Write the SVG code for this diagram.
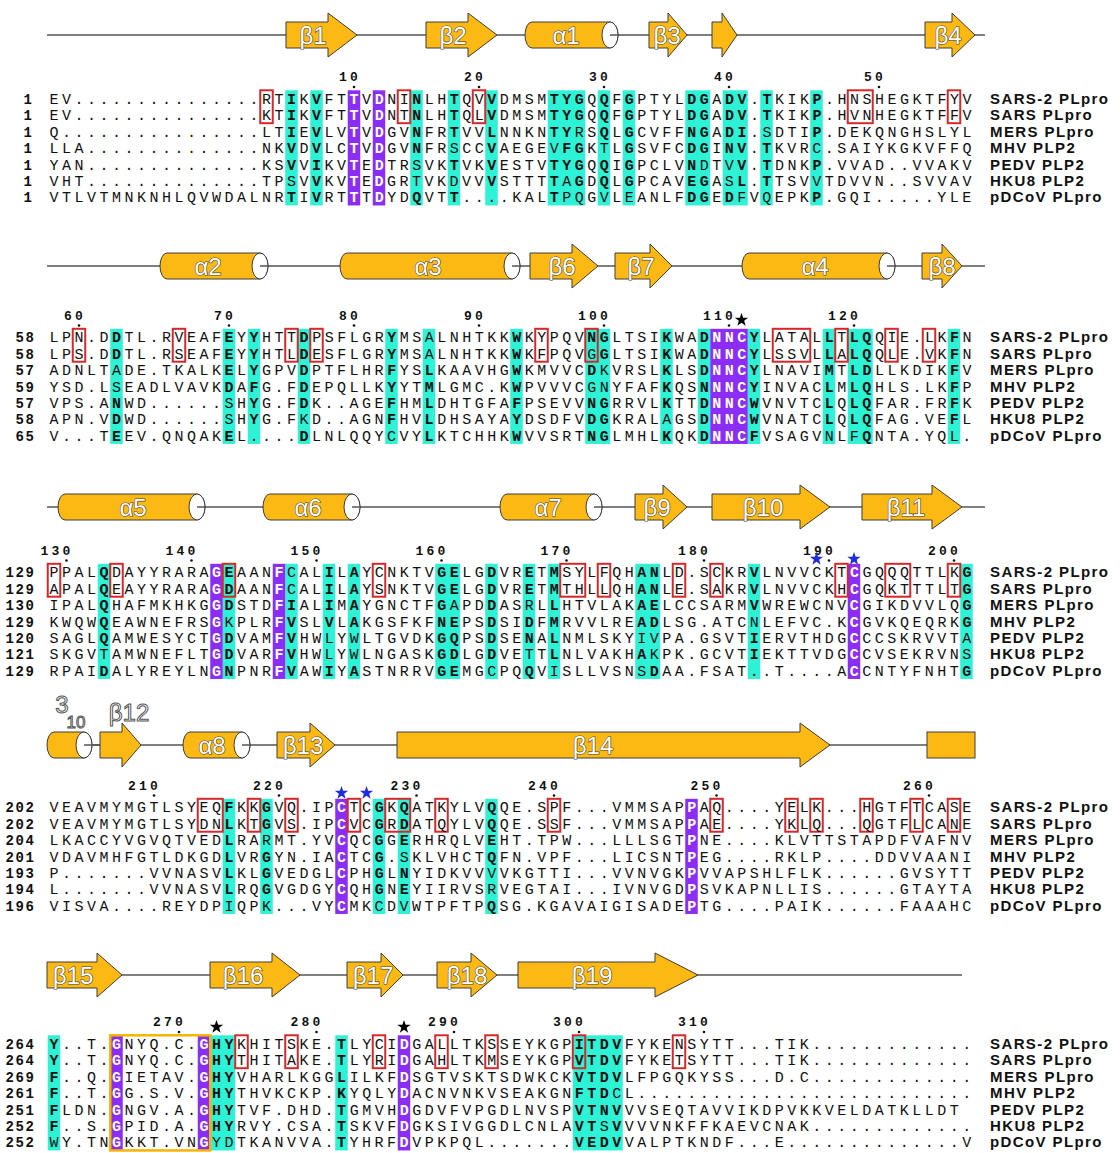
<svg xmlns="http://www.w3.org/2000/svg" width="1120" height="1153" viewBox="0 0 1120 1153">
<style>
.s{font-family:"Liberation Mono",monospace;font-size:15px;letter-spacing:3.5px;fill:#111}
.b{font-weight:700}
.w{font-weight:700;fill:#fff}
.n{font-family:"Liberation Mono",monospace;font-size:14px;font-weight:700;letter-spacing:1.6px;fill:#111}
.nm{font-family:"Liberation Sans",Arial,sans-serif;font-size:15px;font-weight:700;letter-spacing:1.4px;fill:#111}
.pl{font-family:"Liberation Mono",monospace;font-size:13px;font-weight:700;letter-spacing:3.2px;fill:#111}
.cy{fill:#2EF2D6}
.pu{fill:#8C2DF5}
.rb{fill:none;stroke:#D5282B;stroke-width:2}
.ob{fill:none;stroke:#F7B500;stroke-width:2.5}
.ss{fill:#FDB913;stroke:#3C3C3C;stroke-width:1}
.el{fill:#fff;stroke:#3C3C3C;stroke-width:1}
.ln{stroke:#555;stroke-width:1.5;fill:none}
.sl{font-family:"Liberation Sans",Arial,sans-serif;font-size:24px;fill:#fff;stroke:#444;stroke-width:1.2;paint-order:stroke;text-anchor:middle}
.so{font-family:"Liberation Sans",Arial,sans-serif;font-size:24px;fill:#fff;stroke:#555;stroke-width:1;text-anchor:middle}
.dt{fill:#111}
</style>
<defs>
<path id="star" d="M0-7L1.65-2.27L6.66-2.16L2.66 0.87L4.11 5.66L0 2.8L-4.11 5.66L-2.66 0.87L-6.66-2.16L-1.65-2.27Z"/>
</defs>
<rect width="1120" height="1153" fill="#fff"/>

<!-- ================= BLOCK 1 ================= -->
<g id="block1">
<g id="b1-ss">
<line class="ln" x1="47" y1="35" x2="985" y2="35"/>
<path class="ss" d="M286 22H328V13L357 35L328 57V48H286Z"/>
<path class="ss" d="M426 22H468V13L497 35L468 57V48H426Z"/>
<path class="ss" d="M532 22H610A8 13 0 0 1 610 48H532A7 13 0 0 1 532 22Z"/>
<ellipse class="el" cx="610" cy="35" rx="8" ry="13"/>
<line class="ln" x1="610" y1="35" x2="618" y2="35"/>
<path class="ss" d="M649 22H668V13L687 35L668 57V48H649Z"/>
<path class="ss" d="M712 22H722V13L737 35L722 57V48H712Z"/>
<path class="ss" d="M925 22H952V13L975 35L952 57V48H925Z"/>
<text class="sl" x="313" y="43.5">β1</text>
<text class="sl" x="453" y="43.5">β2</text>
<text class="sl" x="566" y="43.5">α1</text>
<text class="sl" x="667" y="43.5">β3</text>
<text class="sl" x="948" y="43.5">β4</text>
</g>
<g id="b1-num">
<text class="pl" x="339.1" y="81">10</text>
<text class="pl" x="464.1" y="81">20</text>
<text class="pl" x="589.1" y="81">30</text>
<text class="pl" x="714.1" y="81">40</text>
<text class="pl" x="864.1" y="81">50</text>
<circle class="dt" cx="354" cy="87" r="1.3"/><circle class="dt" cx="479" cy="87" r="1.3"/><circle class="dt" cx="604" cy="87" r="1.3"/><circle class="dt" cx="729" cy="87" r="1.3"/><circle class="dt" cx="879" cy="87" r="1.3"/>
</g>
<g id="b1-aln" transform="translate(0,98.5)">
<g class="cy">
<rect x="285.25" y="-8.2" width="12.5" height="115.15"/>
<rect x="310.25" y="-8.2" width="12.5" height="115.15"/>
<rect x="410.25" y="-8.2" width="12.5" height="115.15"/>
<rect x="447.75" y="-8.2" width="12.5" height="115.15"/>
<rect x="485.25" y="-8.2" width="12.5" height="115.15"/>
<rect x="547.75" y="-8.2" width="37.5" height="115.15"/>
<rect x="597.75" y="-8.2" width="12.5" height="115.15"/>
<rect x="622.75" y="-8.2" width="12.5" height="115.15"/>
<rect x="685.25" y="-8.2" width="25" height="115.15"/>
<rect x="722.75" y="-8.2" width="25" height="115.15"/>
<rect x="760.25" y="-8.2" width="12.5" height="115.15"/>
<rect x="810.25" y="-8.2" width="12.5" height="115.15"/>
</g>
<g class="pu">
<rect x="347.75" y="-8.2" width="12.5" height="115.15"/>
<rect x="372.75" y="-8.2" width="12.5" height="115.15"/>
</g>
<g class="rb">
<rect x="260.25" y="-8.2" width="12.5" height="32.9"/>
<rect x="397.75" y="-8.2" width="12.5" height="32.9"/>
<rect x="472.75" y="-8.2" width="12.5" height="32.9"/>
<rect x="847.75" y="-8.2" width="25" height="32.9"/>
<rect x="947.75" y="-8.2" width="12.5" height="32.9"/>
</g>
<g class="s">
<text x="49.5" y="5.2">EV...............RT<tspan class="b">I</tspan>K<tspan class="b">V</tspan>FT<tspan class="w">T</tspan>V<tspan class="w">D</tspan>NI<tspan class="b">N</tspan>LH<tspan class="b">T</tspan>QV<tspan class="b">V</tspan>DMSM<tspan class="b">TYG</tspan>Q<tspan class="b">Q</tspan>F<tspan class="b">G</tspan>PTYL<tspan class="b">DG</tspan>A<tspan class="b">DV</tspan>.<tspan class="b">T</tspan>KIK<tspan class="b">P</tspan>.HNSHEGKTFYV</text>
<text x="49.5" y="21.65">EV...............KT<tspan class="b">I</tspan>K<tspan class="b">V</tspan>FT<tspan class="w">T</tspan>V<tspan class="w">D</tspan>NT<tspan class="b">N</tspan>LH<tspan class="b">T</tspan>QL<tspan class="b">V</tspan>DMSM<tspan class="b">TYG</tspan>Q<tspan class="b">Q</tspan>F<tspan class="b">G</tspan>PTYL<tspan class="b">DG</tspan>A<tspan class="b">DV</tspan>.<tspan class="b">T</tspan>KIK<tspan class="b">P</tspan>.HVNHEGKTFFV</text>
<text x="49.5" y="38.1">Q................LT<tspan class="b">I</tspan>E<tspan class="b">V</tspan>LV<tspan class="w">T</tspan>V<tspan class="w">D</tspan>GV<tspan class="b">N</tspan>FR<tspan class="b">T</tspan>VV<tspan class="b">L</tspan>NNKN<tspan class="b">TY</tspan>RS<tspan class="b">Q</tspan>L<tspan class="b">G</tspan>CVFF<tspan class="b">NG</tspan>A<tspan class="b">DI</tspan>.SDTI<tspan class="b">P</tspan>.DEKQNGHSLYL</text>
<text x="49.5" y="54.55">LLA..............NK<tspan class="b">V</tspan>D<tspan class="b">V</tspan>LC<tspan class="w">T</tspan>V<tspan class="w">D</tspan>GV<tspan class="b">N</tspan>FRSCC<tspan class="b">V</tspan>AEGEV<tspan class="b">FG</tspan>KTL<tspan class="b">G</tspan>SVFC<tspan class="b">DG</tspan>I<tspan class="b">NV</tspan>.<tspan class="b">T</tspan>KVRC.SAIYKGKVFFQ</text>
<text x="49.5" y="71">YAN..............KS<tspan class="b">V</tspan>V<tspan class="b">I</tspan>KV<tspan class="w">T</tspan>E<tspan class="w">D</tspan>TRSVK<tspan class="b">T</tspan>VK<tspan class="b">V</tspan>ESTV<tspan class="b">TYG</tspan>Q<tspan class="b">Q</tspan>I<tspan class="b">G</tspan>PCLV<tspan class="b">N</tspan>DTV<tspan class="b">V</tspan>.<tspan class="b">T</tspan>DNK<tspan class="b">P</tspan>.VVAD..VVAKV</text>
<text x="49.5" y="87.45">VHT..............TPSV<tspan class="b">V</tspan>KV<tspan class="w">T</tspan>E<tspan class="w">D</tspan>GRTVKDVV<tspan class="b">V</tspan>STTT<tspan class="b">T</tspan>A<tspan class="b">G</tspan>D<tspan class="b">Q</tspan>L<tspan class="b">G</tspan>PCAV<tspan class="b">EG</tspan>AS<tspan class="b">L</tspan>.<tspan class="b">T</tspan>TSVVTDVVN..SVVAV</text>
<text x="49.5" y="103.9">VTLVTMNKNHLQVWDALNR<tspan class="b">T</tspan>I<tspan class="b">V</tspan>RT<tspan class="w">T</tspan>T<tspan class="w">D</tspan>YD<tspan class="b">Q</tspan>VT<tspan class="b">T</tspan>....KAL<tspan class="b">T</tspan>PQGVLEANLF<tspan class="b">DG</tspan>E<tspan class="b">D</tspan>FVQEPK<tspan class="b">P</tspan>.GQI.....YLE</text>
</g>
<g class="n">
<text x="23.6" y="5.2">1</text><text x="23.6" y="21.65">1</text><text x="23.6" y="38.1">1</text><text x="23.6" y="54.55">1</text><text x="23.6" y="71">1</text><text x="23.6" y="87.45">1</text><text x="23.6" y="103.9">1</text>
</g>
<g class="nm">
<text x="990" y="5.2">SARS-2 PLpro</text><text x="990" y="21.65">SARS PLpro</text><text x="990" y="38.1">MERS PLpro</text><text x="990" y="54.55">MHV PLP2</text><text x="990" y="71">PEDV PLP2</text><text x="990" y="87.45">HKU8 PLP2</text><text x="990" y="103.9">pDCoV PLpro</text>
</g>
</g>
</g>

<!-- ================= BLOCK 2 ================= -->
<g id="block2">
<g id="b2-ss">
<line class="ln" x1="47" y1="266" x2="985" y2="266"/>
<path class="ss" d="M167 253H260A8 13 0 0 1 260 279H167A7 13 0 0 1 167 253Z"/>
<ellipse class="el" cx="260" cy="266" rx="8" ry="13"/>
<line class="ln" x1="260" y1="266" x2="268" y2="266"/>
<path class="ss" d="M347 253H512A8 13 0 0 1 512 279H347A7 13 0 0 1 347 253Z"/>
<ellipse class="el" cx="512" cy="266" rx="8" ry="13"/>
<line class="ln" x1="512" y1="266" x2="520" y2="266"/>
<path class="ss" d="M530 253H572V244L598 266L572 288V279H530Z"/>
<path class="ss" d="M615 253H650V244L672 266L650 288V279H615Z"/>
<path class="ss" d="M749 253H887A8 13 0 0 1 887 279H749A7 13 0 0 1 749 253Z"/>
<ellipse class="el" cx="887" cy="266" rx="8" ry="13"/>
<line class="ln" x1="887" y1="266" x2="895" y2="266"/>
<path class="ss" d="M922 253H942V244L962 266L942 288V279H922Z"/>
<text class="sl" x="208" y="274.5">α2</text>
<text class="sl" x="428" y="274.5">α3</text>
<text class="sl" x="562" y="274.5">β6</text>
<text class="sl" x="641" y="274.5">β7</text>
<text class="sl" x="815" y="274.5">α4</text>
<text class="sl" x="942" y="274.5">β8</text>
</g>
<g id="b2-num">
<text class="pl" x="64.1" y="319.5">60</text>
<text class="pl" x="214.1" y="319.5">70</text>
<text class="pl" x="339.1" y="319.5">80</text>
<text class="pl" x="464.1" y="319.5">90</text>
<text class="pl" x="578.1" y="319.5">100</text>
<text class="pl" x="703.1" y="319.5">110</text>
<text class="pl" x="828.1" y="319.5">120</text>
<circle class="dt" cx="79" cy="325.5" r="1.3"/><circle class="dt" cx="229" cy="325.5" r="1.3"/><circle class="dt" cx="354" cy="325.5" r="1.3"/><circle class="dt" cx="479" cy="325.5" r="1.3"/><circle class="dt" cx="604" cy="325.5" r="1.3"/><circle class="dt" cx="729" cy="325.5" r="1.3"/><circle class="dt" cx="854" cy="325.5" r="1.3"/>
<use href="#star" x="741.5" y="320" fill="#000"/>
</g>
<g id="b2-aln" transform="translate(0,337)">
<g class="cy">
<rect x="110.25" y="-8.2" width="12.5" height="115.15"/>
<rect x="222.75" y="-8.2" width="12.5" height="115.15"/>
<rect x="247.75" y="-8.2" width="12.5" height="115.15"/>
<rect x="297.75" y="-8.2" width="12.5" height="115.15"/>
<rect x="385.25" y="-8.2" width="12.5" height="115.15"/>
<rect x="422.75" y="-8.2" width="12.5" height="115.15"/>
<rect x="510.25" y="-8.2" width="12.5" height="115.15"/>
<rect x="585.25" y="-8.2" width="25" height="115.15"/>
<rect x="660.25" y="-8.2" width="12.5" height="115.15"/>
<rect x="697.75" y="-8.2" width="12.5" height="115.15"/>
<rect x="747.75" y="-8.2" width="12.5" height="115.15"/>
<rect x="822.75" y="-8.2" width="12.5" height="115.15"/>
<rect x="847.75" y="-8.2" width="25" height="115.15"/>
<rect x="947.75" y="-8.2" width="12.5" height="115.15"/>
</g>
<g class="pu">
<rect x="710.25" y="-8.2" width="37.5" height="115.15"/>
</g>
<g class="rb">
<rect x="72.75" y="-8.2" width="12.5" height="32.9"/>
<rect x="172.75" y="-8.2" width="12.5" height="32.9"/>
<rect x="285.25" y="-8.2" width="12.5" height="32.9"/>
<rect x="310.25" y="-8.2" width="12.5" height="32.9"/>
<rect x="535.25" y="-8.2" width="12.5" height="32.9"/>
<rect x="585.25" y="-8.2" width="12.5" height="32.9"/>
<rect x="772.75" y="-8.2" width="37.5" height="32.9"/>
<rect x="835.25" y="-8.2" width="12.5" height="32.9"/>
<rect x="885.25" y="-8.2" width="12.5" height="32.9"/>
<rect x="922.75" y="-8.2" width="12.5" height="32.9"/>
</g>
<g class="s">
<text x="49.5" y="5.2">LPN.D<tspan class="b">D</tspan>TL.RVEAF<tspan class="b">E</tspan>Y<tspan class="b">Y</tspan>HTT<tspan class="b">D</tspan>PSFLGR<tspan class="b">Y</tspan>MSALNHTKK<tspan class="b">W</tspan>KYPQV<tspan class="b">NG</tspan>LTSI<tspan class="b">K</tspan>WA<tspan class="b">D</tspan><tspan class="w">NNC</tspan><tspan class="b">Y</tspan>LATAL<tspan class="b">L</tspan>T<tspan class="b">LQ</tspan>QIE.LK<tspan class="b">F</tspan>N</text>
<text x="49.5" y="21.65">LPS.D<tspan class="b">D</tspan>TL.RSEAF<tspan class="b">E</tspan>Y<tspan class="b">Y</tspan>HTL<tspan class="b">D</tspan>ESFLGR<tspan class="b">Y</tspan>MSALNHTKK<tspan class="b">W</tspan>KFPQVG<tspan class="b">G</tspan>LTSI<tspan class="b">K</tspan>WA<tspan class="b">D</tspan><tspan class="w">NNC</tspan><tspan class="b">Y</tspan>LSSVL<tspan class="b">L</tspan>A<tspan class="b">LQ</tspan>QLE.VK<tspan class="b">F</tspan>N</text>
<text x="49.5" y="38.1">ADNLTADE.TKALK<tspan class="b">E</tspan>L<tspan class="b">Y</tspan>GPV<tspan class="b">D</tspan>PTFLHR<tspan class="b">F</tspan>YS<tspan class="b">L</tspan>KAAVHG<tspan class="b">W</tspan>KMVVC<tspan class="b">D</tspan>KVRSL<tspan class="b">K</tspan>LS<tspan class="b">D</tspan><tspan class="w">NNC</tspan><tspan class="b">Y</tspan>LNAVI<tspan class="b">M</tspan>T<tspan class="b">LD</tspan>LLKDIK<tspan class="b">F</tspan>V</text>
<text x="49.5" y="54.55">YSD.LSEADLVAVK<tspan class="b">D</tspan>A<tspan class="b">F</tspan>G.F<tspan class="b">D</tspan>EPQLLK<tspan class="b">Y</tspan>YT<tspan class="b">M</tspan>LGMC.K<tspan class="b">W</tspan>PVVVCGNYFAF<tspan class="b">K</tspan>QS<tspan class="b">N</tspan><tspan class="w">NNC</tspan><tspan class="b">Y</tspan>INVAC<tspan class="b">L</tspan>M<tspan class="b">LQ</tspan>HLS.LK<tspan class="b">F</tspan>P</text>
<text x="49.5" y="71">VPS.A<tspan class="b">N</tspan>WD......SH<tspan class="b">Y</tspan>G.F<tspan class="b">D</tspan>K..AGE<tspan class="b">F</tspan>HM<tspan class="b">L</tspan>DHTGFA<tspan class="b">F</tspan>PSEVV<tspan class="b">NG</tspan>RRVL<tspan class="b">K</tspan>TT<tspan class="b">D</tspan><tspan class="w">NNC</tspan><tspan class="b">W</tspan>VNVTC<tspan class="b">L</tspan>Q<tspan class="b">LQ</tspan>FAR.FR<tspan class="b">F</tspan>K</text>
<text x="49.5" y="87.45">APN.V<tspan class="b">D</tspan>WD......SH<tspan class="b">Y</tspan>G.FKD..AGN<tspan class="b">F</tspan>HV<tspan class="b">L</tspan>DHSAYA<tspan class="b">Y</tspan>DSDFV<tspan class="b">DG</tspan>KRALAGS<tspan class="b">D</tspan><tspan class="w">NNC</tspan><tspan class="b">W</tspan>VNATC<tspan class="b">L</tspan>Q<tspan class="b">LQ</tspan>FAG.VE<tspan class="b">F</tspan>L</text>
<text x="49.5" y="103.9">V...T<tspan class="b">E</tspan>EV.QNQAK<tspan class="b">E</tspan>L....<tspan class="b">D</tspan>LNLQQYCVY<tspan class="b">L</tspan>KTCHHK<tspan class="b">W</tspan>VVSRT<tspan class="b">NG</tspan>LMHL<tspan class="b">K</tspan>QK<tspan class="b">D</tspan><tspan class="w">NNC</tspan><tspan class="b">F</tspan>VSAGVNLF<tspan class="b">Q</tspan>NTA.YQL.</text>
</g>
<g class="n">
<text x="15.6" y="5.2">58</text><text x="15.6" y="21.65">58</text><text x="15.6" y="38.1">57</text><text x="15.6" y="54.55">59</text><text x="15.6" y="71">57</text><text x="15.6" y="87.45">58</text><text x="15.6" y="103.9">65</text>
</g>
<g class="nm">
<text x="990" y="5.2">SARS-2 PLpro</text><text x="990" y="21.65">SARS PLpro</text><text x="990" y="38.1">MERS PLpro</text><text x="990" y="54.55">MHV PLP2</text><text x="990" y="71">PEDV PLP2</text><text x="990" y="87.45">HKU8 PLP2</text><text x="990" y="103.9">pDCoV PLpro</text>
</g>
</g>
</g>

<!-- ================= BLOCK 3 ================= -->
<g id="block3">
<g id="b3-ss">
<line class="ln" x1="47" y1="507" x2="985" y2="507"/>
<path class="ss" d="M65 494H197A8 13 0 0 1 197 520H65A7 13 0 0 1 65 494Z"/>
<ellipse class="el" cx="197" cy="507" rx="8" ry="13"/>
<line class="ln" x1="197" y1="507" x2="205" y2="507"/>
<path class="ss" d="M270 494H352A8 13 0 0 1 352 520H270A7 13 0 0 1 270 494Z"/>
<ellipse class="el" cx="352" cy="507" rx="8" ry="13"/>
<line class="ln" x1="352" y1="507" x2="360" y2="507"/>
<path class="ss" d="M507 494H594A8 13 0 0 1 594 520H507A7 13 0 0 1 507 494Z"/>
<ellipse class="el" cx="594" cy="507" rx="8" ry="13"/>
<line class="ln" x1="594" y1="507" x2="602" y2="507"/>
<path class="ss" d="M635 494H663V485L687 507L663 529V520H635Z"/>
<path class="ss" d="M712 494H800V485L830 507L800 529V520H712Z"/>
<path class="ss" d="M862 494H932V485L962 507L932 529V520H862Z"/>
<text class="sl" x="133" y="515.5">α5</text>
<text class="sl" x="308" y="515.5">α6</text>
<text class="sl" x="548" y="515.5">α7</text>
<text class="sl" x="657" y="515.5">β9</text>
<text class="sl" x="763" y="515.5">β10</text>
<text class="sl" x="906" y="515.5">β11</text>
</g>
<g id="b3-num">
<text class="pl" x="40.6" y="554.5">130</text>
<text class="pl" x="165.6" y="554.5">140</text>
<text class="pl" x="290.6" y="554.5">150</text>
<text class="pl" x="415.6" y="554.5">160</text>
<text class="pl" x="540.6" y="554.5">170</text>
<text class="pl" x="678.1" y="554.5">180</text>
<text class="pl" x="803.1" y="554.5">190</text>
<text class="pl" x="928.1" y="554.5">200</text>
<circle class="dt" cx="66.5" cy="560.5" r="1.3"/><circle class="dt" cx="191.5" cy="560.5" r="1.3"/><circle class="dt" cx="316.5" cy="560.5" r="1.3"/><circle class="dt" cx="441.5" cy="560.5" r="1.3"/><circle class="dt" cx="566.5" cy="560.5" r="1.3"/><circle class="dt" cx="704" cy="560.5" r="1.3"/><circle class="dt" cx="829" cy="560.5" r="1.3"/><circle class="dt" cx="954" cy="560.5" r="1.3"/>
<use href="#star" x="816.5" y="559" fill="#1F2BE0"/>
<use href="#star" x="854" y="559" fill="#1F2BE0"/>
</g>
<g id="b3-aln" transform="translate(0,572)">
<g class="cy">
<rect x="97.75" y="-8.2" width="12.5" height="115.15"/>
<rect x="222.75" y="-8.2" width="12.5" height="115.15"/>
<rect x="285.25" y="-8.2" width="12.5" height="115.15"/>
<rect x="322.75" y="-8.2" width="12.5" height="115.15"/>
<rect x="347.75" y="-8.2" width="12.5" height="115.15"/>
<rect x="435.25" y="-8.2" width="25" height="115.15"/>
<rect x="485.25" y="-8.2" width="12.5" height="115.15"/>
<rect x="522.75" y="-8.2" width="12.5" height="115.15"/>
<rect x="547.75" y="-8.2" width="12.5" height="115.15"/>
<rect x="635.25" y="-8.2" width="25" height="115.15"/>
<rect x="747.75" y="-8.2" width="12.5" height="115.15"/>
<rect x="960.25" y="-8.2" width="12.5" height="115.15"/>
</g>
<g class="pu">
<rect x="210.25" y="-8.2" width="12.5" height="115.15"/>
<rect x="272.75" y="-8.2" width="12.5" height="115.15"/>
<rect x="847.75" y="-8.2" width="12.5" height="115.15"/>
</g>
<g class="rb">
<rect x="47.75" y="-8.2" width="12.5" height="32.9"/>
<rect x="110.25" y="-8.2" width="12.5" height="32.9"/>
<rect x="222.75" y="-8.2" width="12.5" height="32.9"/>
<rect x="372.75" y="-8.2" width="12.5" height="32.9"/>
<rect x="560.25" y="-8.2" width="25" height="32.9"/>
<rect x="597.75" y="-8.2" width="12.5" height="32.9"/>
<rect x="672.75" y="-8.2" width="12.5" height="32.9"/>
<rect x="710.25" y="-8.2" width="12.5" height="32.9"/>
<rect x="835.25" y="-8.2" width="12.5" height="32.9"/>
<rect x="885.25" y="-8.2" width="25" height="32.9"/>
<rect x="947.75" y="-8.2" width="12.5" height="32.9"/>
</g>
<g class="s">
<text x="49.5" y="5.2">PPAL<tspan class="b">Q</tspan>DAYYRARA<tspan class="w">G</tspan><tspan class="b">E</tspan>AAN<tspan class="w">F</tspan>CAL<tspan class="b">I</tspan>L<tspan class="b">A</tspan>YCNKTV<tspan class="b">GE</tspan>LG<tspan class="b">D</tspan>VR<tspan class="b">E</tspan>T<tspan class="b">M</tspan>SYLFQH<tspan class="b">AN</tspan>LD.SCKR<tspan class="b">V</tspan>LNVVCKT<tspan class="w">C</tspan>GQQQTTLK<tspan class="b">G</tspan></text>
<text x="49.5" y="21.65">APAL<tspan class="b">Q</tspan>EAYYRARA<tspan class="w">G</tspan><tspan class="b">D</tspan>AAN<tspan class="w">F</tspan>CAL<tspan class="b">I</tspan>L<tspan class="b">A</tspan>YSNKTV<tspan class="b">GE</tspan>LG<tspan class="b">D</tspan>VR<tspan class="b">E</tspan>T<tspan class="b">M</tspan>THLLQH<tspan class="b">AN</tspan>LE.SAKR<tspan class="b">V</tspan>LNVVCKH<tspan class="w">C</tspan>GQKTTTLT<tspan class="b">G</tspan></text>
<text x="49.5" y="38.1">IPAL<tspan class="b">Q</tspan>HAFMKHKG<tspan class="w">G</tspan><tspan class="b">D</tspan>STD<tspan class="w">F</tspan><tspan class="b">I</tspan>AL<tspan class="b">I</tspan>M<tspan class="b">A</tspan>YGNCTF<tspan class="b">G</tspan>APD<tspan class="b">D</tspan>ASRL<tspan class="b">L</tspan>HTVLAK<tspan class="b">AE</tspan>LCCSARM<tspan class="b">V</tspan>WREWCNV<tspan class="w">C</tspan>GIKDVVLQ<tspan class="b">G</tspan></text>
<text x="49.5" y="54.55">KWQW<tspan class="b">Q</tspan>EAWNEFRS<tspan class="w">G</tspan>KPLR<tspan class="w">F</tspan><tspan class="b">V</tspan>SL<tspan class="b">V</tspan>L<tspan class="b">A</tspan>KGSFKF<tspan class="b">NE</tspan>PS<tspan class="b">D</tspan>SI<tspan class="b">D</tspan>F<tspan class="b">M</tspan>RVVLRE<tspan class="b">AD</tspan>LSG.ATCNLEFVC.K<tspan class="w">C</tspan>GVKQEQRK<tspan class="b">G</tspan></text>
<text x="49.5" y="71">SAGL<tspan class="b">Q</tspan>AMWESYCT<tspan class="w">G</tspan><tspan class="b">D</tspan>VAM<tspan class="w">F</tspan><tspan class="b">V</tspan>HWLYWLTGVDK<tspan class="b">GQ</tspan>PS<tspan class="b">D</tspan>SE<tspan class="b">N</tspan>A<tspan class="b">L</tspan>NMLSKYIVPA.GSVT<tspan class="b">I</tspan>ERVTHDG<tspan class="w">C</tspan>CCSKRVVTA</text>
<text x="49.5" y="87.45">SKGVTAMWNEFLT<tspan class="w">G</tspan><tspan class="b">D</tspan>VAR<tspan class="w">F</tspan><tspan class="b">V</tspan>HWLYWLNGASK<tspan class="b">GD</tspan>LG<tspan class="b">D</tspan>VETT<tspan class="b">L</tspan>NLVAKH<tspan class="b">A</tspan>KPK.GCVT<tspan class="b">I</tspan>EKTTVDG<tspan class="w">C</tspan>CVSEKRVNS</text>
<text x="49.5" y="103.9">RPAI<tspan class="b">D</tspan>ALYREYLN<tspan class="w">G</tspan><tspan class="b">N</tspan>PNR<tspan class="w">F</tspan><tspan class="b">V</tspan>AW<tspan class="b">I</tspan>Y<tspan class="b">A</tspan>STNRRV<tspan class="b">GE</tspan>MGCPQ<tspan class="b">Q</tspan>VISLLVSNS<tspan class="b">D</tspan>AA.FSAT..T....A<tspan class="w">C</tspan>CNTYFNHT<tspan class="b">G</tspan></text>
</g>
<g class="n">
<text x="5.6" y="5.2">129</text><text x="5.6" y="21.65">129</text><text x="5.6" y="38.1">130</text><text x="5.6" y="54.55">129</text><text x="5.6" y="71">120</text><text x="5.6" y="87.45">121</text><text x="5.6" y="103.9">129</text>
</g>
<g class="nm">
<text x="990" y="5.2">SARS-2 PLpro</text><text x="990" y="21.65">SARS PLpro</text><text x="990" y="38.1">MERS PLpro</text><text x="990" y="54.55">MHV PLP2</text><text x="990" y="71">PEDV PLP2</text><text x="990" y="87.45">HKU8 PLP2</text><text x="990" y="103.9">pDCoV PLpro</text>
</g>
</g>
</g>

<!-- ================= BLOCK 4 ================= -->
<g id="block4">
<g id="b4-ss">
<line class="ln" x1="47" y1="745" x2="975" y2="745"/>
<path class="ss" d="M54 732H84A8 13 0 0 1 84 758H54A7 13 0 0 1 54 732Z"/>
<ellipse class="el" cx="84" cy="745" rx="8" ry="13"/>
<line class="ln" x1="84" y1="745" x2="100" y2="745"/>
<path class="ss" d="M100 732H122V723L141 745L122 767V758H100Z"/>
<path class="ss" d="M190 732H242A8 13 0 0 1 242 758H190A7 13 0 0 1 190 732Z"/>
<ellipse class="el" cx="242" cy="745" rx="8" ry="13"/>
<line class="ln" x1="242" y1="745" x2="250" y2="745"/>
<path class="ss" d="M277 732H310V723L335 745L310 767V758H277Z"/>
<path class="ss" d="M397 732H800V723L830 745L800 767V758H397Z"/>
<rect class="ss" x="927" y="732" width="48" height="26"/>
<text class="so" x="62" y="713">3</text>
<text class="so" x="76" y="728" style="font-size:17px">10</text>
<text class="so" x="129" y="721">β12</text>
<text class="sl" x="212" y="753.5">α8</text>
<text class="sl" x="303" y="753.5">β13</text>
<text class="sl" x="593" y="753.5">β14</text>
</g>
<g id="b4-num">
<text class="pl" x="128.1" y="789.5">210</text>
<text class="pl" x="253.1" y="789.5">220</text>
<text class="pl" x="390.6" y="789.5">230</text>
<text class="pl" x="528.1" y="789.5">240</text>
<text class="pl" x="690.6" y="789.5">250</text>
<text class="pl" x="903.1" y="789.5">260</text>
<circle class="dt" cx="154" cy="795.5" r="1.3"/><circle class="dt" cx="279" cy="795.5" r="1.3"/><circle class="dt" cx="416.5" cy="795.5" r="1.3"/><circle class="dt" cx="554" cy="795.5" r="1.3"/><circle class="dt" cx="716.5" cy="795.5" r="1.3"/><circle class="dt" cx="929" cy="795.5" r="1.3"/>
<use href="#star" x="341.5" y="793" fill="#1F2BE0"/>
<use href="#star" x="366.5" y="793" fill="#1F2BE0"/>
</g>
<g id="b4-aln" transform="translate(0,807)">
<g class="cy">
<rect x="222.75" y="-8.2" width="12.5" height="115.15"/>
<rect x="260.25" y="-8.2" width="12.5" height="115.15"/>
<rect x="372.75" y="-8.2" width="12.5" height="115.15"/>
<rect x="397.75" y="-8.2" width="12.5" height="115.15"/>
<rect x="485.25" y="-8.2" width="12.5" height="115.15"/>
</g>
<g class="pu">
<rect x="335.25" y="-8.2" width="12.5" height="115.15"/>
<rect x="685.25" y="-8.2" width="12.5" height="115.15"/>
</g>
<g class="rb">
<rect x="197.75" y="-8.2" width="25" height="32.9"/>
<rect x="247.75" y="-8.2" width="12.5" height="32.9"/>
<rect x="285.25" y="-8.2" width="12.5" height="32.9"/>
<rect x="347.75" y="-8.2" width="12.5" height="32.9"/>
<rect x="385.25" y="-8.2" width="25" height="32.9"/>
<rect x="435.25" y="-8.2" width="12.5" height="32.9"/>
<rect x="547.75" y="-8.2" width="12.5" height="32.9"/>
<rect x="710.25" y="-8.2" width="12.5" height="32.9"/>
<rect x="785.25" y="-8.2" width="12.5" height="32.9"/>
<rect x="810.25" y="-8.2" width="12.5" height="32.9"/>
<rect x="860.25" y="-8.2" width="12.5" height="32.9"/>
<rect x="910.25" y="-8.2" width="12.5" height="32.9"/>
<rect x="947.75" y="-8.2" width="12.5" height="32.9"/>
</g>
<g class="s">
<text x="49.5" y="5.2">VEAVMYMGTLSYEQ<tspan class="b">F</tspan>KK<tspan class="b">G</tspan>VQ.IP<tspan class="w">C</tspan>TC<tspan class="b">G</tspan>K<tspan class="b">Q</tspan>ATKYLV<tspan class="b">Q</tspan>QE.SPF...VMMSAP<tspan class="w">P</tspan>AQ....YELK...HGTFTCASE</text>
<text x="49.5" y="21.65">VEAVMYMGTLSYDN<tspan class="b">L</tspan>KT<tspan class="b">G</tspan>VS.IP<tspan class="w">C</tspan>VC<tspan class="b">G</tspan>R<tspan class="b">D</tspan>ATQYLV<tspan class="b">Q</tspan>QE.SSF...VMMSAP<tspan class="w">P</tspan>AE....YKLQ...QGTFLCANE</text>
<text x="49.5" y="38.1">LKACCYVGVQTVED<tspan class="b">L</tspan>RARMT.YV<tspan class="w">C</tspan>QC<tspan class="b">G</tspan>G<tspan class="b">E</tspan>RHRQLV<tspan class="b">E</tspan>HT.TPW...LLLSGT<tspan class="w">P</tspan>NE....KLVTTSTAPDFVAFNV</text>
<text x="49.5" y="54.55">VDAVMHFGTLDKGD<tspan class="b">L</tspan>VR<tspan class="b">G</tspan>YN.IA<tspan class="w">C</tspan>TC<tspan class="b">G</tspan>.SKLVHCT<tspan class="b">Q</tspan>FN.VPF...LICSNT<tspan class="w">P</tspan>EG....RKLP....DDVVAANI</text>
<text x="49.5" y="71">P.......VVNASV<tspan class="b">L</tspan>KL<tspan class="b">G</tspan>VEDGL<tspan class="w">C</tspan>PH<tspan class="b">G</tspan>L<tspan class="b">N</tspan>YIDKVVVVKGTTI...VVNVGK<tspan class="w">P</tspan>VVAPSHLFLK......GVSYTT</text>
<text x="49.5" y="87.45">L.......VVNASV<tspan class="b">L</tspan>RQ<tspan class="b">G</tspan>VGDGY<tspan class="w">C</tspan>QH<tspan class="b">G</tspan>N<tspan class="b">E</tspan>YIIRVSRVEGTAI...IVNVGD<tspan class="w">P</tspan>SVKAPNLLIS......GTAYTA</text>
<text x="49.5" y="103.9">VISVA....REYDPIQPK...VY<tspan class="w">C</tspan>MKCDVWTPFTP<tspan class="b">Q</tspan>SG.KGAVAIGISADE<tspan class="w">P</tspan>TG....PAIK......FAAAHC</text>
</g>
<g class="n">
<text x="5.6" y="5.2">202</text><text x="5.6" y="21.65">202</text><text x="5.6" y="38.1">204</text><text x="5.6" y="54.55">201</text><text x="5.6" y="71">193</text><text x="5.6" y="87.45">194</text><text x="5.6" y="103.9">196</text>
</g>
<g class="nm">
<text x="990" y="5.2">SARS-2 PLpro</text><text x="990" y="21.65">SARS PLpro</text><text x="990" y="38.1">MERS PLpro</text><text x="990" y="54.55">MHV PLP2</text><text x="990" y="71">PEDV PLP2</text><text x="990" y="87.45">HKU8 PLP2</text><text x="990" y="103.9">pDCoV PLpro</text>
</g>
</g>
</g>

<!-- ================= BLOCK 5 ================= -->
<g id="block5">
<g id="b5-ss">
<line class="ln" x1="47" y1="975" x2="962" y2="975"/>
<path class="ss" d="M47 962H97V953L122 975L97 997V988H47Z"/>
<path class="ss" d="M210 962H272V953L300 975L272 997V988H210Z"/>
<path class="ss" d="M347 962H381V953L403 975L381 997V988H347Z"/>
<path class="ss" d="M437 962H471V953L497 975L471 997V988H437Z"/>
<path class="ss" d="M518 962H655V953L698 975L655 997V988H518Z"/>
<text class="sl" x="73" y="983.5">β15</text>
<text class="sl" x="243" y="983.5">β16</text>
<text class="sl" x="373" y="983.5">β17</text>
<text class="sl" x="467" y="983.5">β18</text>
<text class="sl" x="592" y="983.5">β19</text>
</g>
<g id="b5-num">
<text class="pl" x="153.1" y="1026">270</text>
<text class="pl" x="290.6" y="1026">280</text>
<text class="pl" x="428.1" y="1026">290</text>
<text class="pl" x="553.1" y="1026">300</text>
<text class="pl" x="678.1" y="1026">310</text>
<circle class="dt" cx="179" cy="1032" r="1.3"/><circle class="dt" cx="316.5" cy="1032" r="1.3"/><circle class="dt" cx="454" cy="1032" r="1.3"/><circle class="dt" cx="579" cy="1032" r="1.3"/><circle class="dt" cx="704" cy="1032" r="1.3"/>
<use href="#star" x="216.5" y="1027" fill="#000"/>
<use href="#star" x="404" y="1027" fill="#000"/>
</g>
<g id="b5-aln" transform="translate(0,1043.5)">
<g class="cy">
<rect x="47.75" y="-8.2" width="12.5" height="115.15"/>
<rect x="210.25" y="-8.2" width="25" height="115.15"/>
<rect x="335.25" y="-8.2" width="12.5" height="115.15"/>
<rect x="572.75" y="-8.2" width="50" height="115.15"/>
</g>
<g class="pu">
<rect x="110.25" y="-8.2" width="12.5" height="115.15"/>
<rect x="197.75" y="-8.2" width="12.5" height="115.15"/>
<rect x="397.75" y="-8.2" width="12.5" height="115.15"/>
</g>
<g class="rb">
<rect x="235.25" y="-8.2" width="12.5" height="32.9"/>
<rect x="285.25" y="-8.2" width="12.5" height="32.9"/>
<rect x="372.75" y="-8.2" width="12.5" height="32.9"/>
<rect x="435.25" y="-8.2" width="12.5" height="32.9"/>
<rect x="485.25" y="-8.2" width="12.5" height="32.9"/>
<rect x="572.75" y="-8.2" width="12.5" height="32.9"/>
<rect x="672.75" y="-8.2" width="12.5" height="32.9"/>
</g>
<rect class="ob" x="110.25" y="-8.2" width="100" height="115.15"/>
<g class="s">
<text x="49.5" y="5.2"><tspan class="b">Y</tspan>..T.<tspan class="w">G</tspan>NYQ.C.<tspan class="w">G</tspan><tspan class="b">HY</tspan>KHITSKE.<tspan class="b">T</tspan>LYCI<tspan class="w">D</tspan>GALLTKSSEYKGP<tspan class="b">ITDV</tspan>FYKENSYTT...TIK.............</text>
<text x="49.5" y="21.65"><tspan class="b">Y</tspan>..T.<tspan class="w">G</tspan>NYQ.C.<tspan class="w">G</tspan><tspan class="b">HY</tspan>THITAKE.<tspan class="b">T</tspan>LYRI<tspan class="w">D</tspan>GAHLTKMSEYKGP<tspan class="b">VTDV</tspan>FYKETSYTT...TIK.............</text>
<text x="49.5" y="38.1"><tspan class="b">F</tspan>..Q.<tspan class="w">G</tspan>IETAV.<tspan class="w">G</tspan><tspan class="b">HY</tspan>VHARLKGG<tspan class="b">L</tspan>ILKF<tspan class="w">D</tspan>SGTVSKTSDWKCK<tspan class="b">VTDV</tspan>LFPGQKYSS...D.C.............</text>
<text x="49.5" y="54.55"><tspan class="b">F</tspan>..T.<tspan class="w">G</tspan>G.S.V.<tspan class="w">G</tspan><tspan class="b">HY</tspan>THVKCKP.<tspan class="b">K</tspan>YQLY<tspan class="w">D</tspan>ACNVNKVSEAKGN<tspan class="b">FTD</tspan>CL...........................</text>
<text x="49.5" y="71"><tspan class="b">F</tspan>LDN.<tspan class="w">G</tspan>NGV.A.<tspan class="w">G</tspan><tspan class="b">HY</tspan>TVF.DHD.<tspan class="b">T</tspan>GMVH<tspan class="w">D</tspan>GDVFVPGDLNVSP<tspan class="b">VTNV</tspan>VVSEQTAVVIKDPVKKVELDATKLLDT</text>
<text x="49.5" y="87.45"><tspan class="b">F</tspan>..S.<tspan class="w">G</tspan>PID.A.<tspan class="w">G</tspan><tspan class="b">HY</tspan>RVY.CSA.<tspan class="b">T</tspan>SKVF<tspan class="w">D</tspan>GKSIVGGDLCNLA<tspan class="b">VT</tspan>S<tspan class="b">V</tspan>VVVNKFFKAEVCNAK.............</text>
<text x="49.5" y="103.9">WY.TN<tspan class="w">G</tspan>KKT.VN<tspan class="w">G</tspan>YDTKANVVA.<tspan class="b">T</tspan>YHRF<tspan class="w">D</tspan>VPKPQL.......<tspan class="b">VEDV</tspan>VALPTKNDF...E..............V</text>
</g>
<g class="n">
<text x="5.6" y="5.2">264</text><text x="5.6" y="21.65">264</text><text x="5.6" y="38.1">269</text><text x="5.6" y="54.55">261</text><text x="5.6" y="71">251</text><text x="5.6" y="87.45">252</text><text x="5.6" y="103.9">252</text>
</g>
<g class="nm">
<text x="990" y="5.2">SARS-2 PLpro</text><text x="990" y="21.65">SARS PLpro</text><text x="990" y="38.1">MERS PLpro</text><text x="990" y="54.55">MHV PLP2</text><text x="990" y="71">PEDV PLP2</text><text x="990" y="87.45">HKU8 PLP2</text><text x="990" y="103.9">pDCoV PLpro</text>
</g>
</g>
</g>
</svg>
